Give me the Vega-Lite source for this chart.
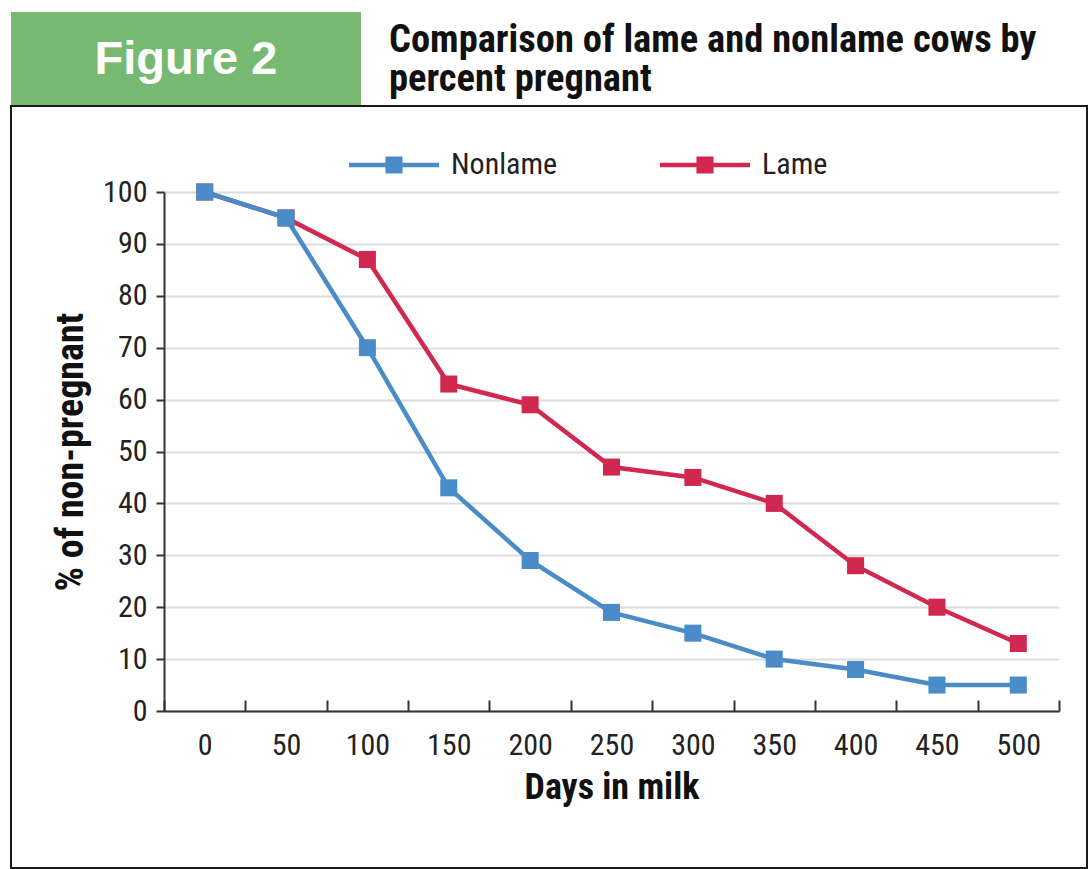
{
  "$schema": "https://vega.github.io/schema/vega-lite/v6.json",
  "background": "white",
  "padding": {"left": 10, "top": 12, "right": 0, "bottom": 0},
  "spacing": 0,
  "config": {
    "view": {"stroke": null},
    "font": "Roboto Condensed, DejaVu Sans Condensed, sans-serif"
  },
  "vconcat": [
    {
      "spacing": 0,
      "hconcat": [
        {
          "width": 350,
          "height": 93,
          "view": {"fill": "#77b970", "stroke": null},
          "data": {"values": [{"label": "Figure 2"}]},
          "mark": {"type": "text", "font": "Liberation Sans, Arial, sans-serif", "fontWeight": "bold", "fontSize": 47, "color": "white", "align": "center", "baseline": "middle", "dy": 1},
          "encoding": {
            "x": {"field": "label", "type": "nominal", "scale": {"type": "point"}, "axis": null},
            "y": {"field": "label", "type": "nominal", "scale": {"type": "point"}, "axis": null},
            "text": {"field": "label"}
          }
        },
        {
          "width": 726,
          "height": 93,
          "data": {"values": [{"t": "Comparison of lame and nonlame cows by\npercent pregnant"}]},
          "mark": {"type": "text", "fontWeight": "bold", "fontSize": 38.5, "color": "#111", "align": "left", "baseline": "alphabetic", "lineBreak": "\n", "lineHeight": 38.5, "dx": 28, "dy": 40},
          "encoding": {
            "x": {"field": "t", "type": "nominal", "scale": {"type": "point", "padding": 0, "align": 0}, "axis": null},
            "y": {"field": "t", "type": "nominal", "scale": {"type": "point", "padding": 0, "align": 0}, "axis": null},
            "text": {"field": "t"}
          }
        }
      ]
    },
    {
      "width": 1076,
      "height": 762,
      "view": {"stroke": "#1a1a1a", "strokeWidth": 2},
      "data": {
        "values": [
          {"group": "Lame", "day": 0, "pct": 100},
          {"group": "Lame", "day": 50, "pct": 95},
          {"group": "Lame", "day": 100, "pct": 87},
          {"group": "Lame", "day": 150, "pct": 63},
          {"group": "Lame", "day": 200, "pct": 59},
          {"group": "Lame", "day": 250, "pct": 47},
          {"group": "Lame", "day": 300, "pct": 45},
          {"group": "Lame", "day": 350, "pct": 40},
          {"group": "Lame", "day": 400, "pct": 28},
          {"group": "Lame", "day": 450, "pct": 20},
          {"group": "Lame", "day": 500, "pct": 13},
          {"group": "Nonlame", "day": 0, "pct": 100},
          {"group": "Nonlame", "day": 50, "pct": 95},
          {"group": "Nonlame", "day": 100, "pct": 70},
          {"group": "Nonlame", "day": 150, "pct": 43},
          {"group": "Nonlame", "day": 200, "pct": 29},
          {"group": "Nonlame", "day": 250, "pct": 19},
          {"group": "Nonlame", "day": 300, "pct": 15},
          {"group": "Nonlame", "day": 350, "pct": 10},
          {"group": "Nonlame", "day": 400, "pct": 8},
          {"group": "Nonlame", "day": 450, "pct": 5},
          {"group": "Nonlame", "day": 500, "pct": 5}
        ]
      },
      "encoding": {
        "x": {
          "field": "day",
          "type": "ordinal",
          "bandPosition": 0.5,
          "scale": {"type": "band", "range": [153, 1048], "paddingInner": 0, "paddingOuter": 0},
          "axis": {
            "title": "Days in milk",
            "orient": "bottom",
            "offset": -157,
            "tickBand": "extent",
            "tickSize": -11,
            "tickWidth": 2,
            "tickColor": "#333",
            "domainColor": "#333",
            "domainWidth": 2,
            "labelAngle": 0,
            "labelFontSize": 30,
            "labelColor": "#222",
            "labelPadding": 30,
            "grid": false,
            "titleFontSize": 36,
            "titleFontWeight": "bold",
            "titleColor": "#111",
            "titlePadding": 10
          }
        },
        "y": {
          "field": "pct",
          "type": "quantitative",
          "scale": {"domain": [0, 100], "range": [605, 86], "nice": false},
          "axis": {
            "title": "% of non-pregnant",
            "offset": -153,
            "values": [0, 10, 20, 30, 40, 50, 60, 70, 80, 90, 100],
            "tickSize": 8,
            "tickWidth": 2,
            "tickColor": "#333",
            "domainColor": "#333",
            "domainWidth": 2,
            "labelFontSize": 30,
            "labelColor": "#222",
            "labelPadding": 9,
            "grid": true,
            "gridColor": "#dcdcdc",
            "gridWidth": 2,
            "titleFontSize": 38,
            "titleFontWeight": "bold",
            "titleColor": "#111",
            "titlePadding": 12
          }
        },
        "color": {
          "field": "group",
          "type": "nominal",
          "scale": {"domain": ["Nonlame", "Lame"], "range": ["#4a8cc8", "#d0284f"]},
          "legend": {
            "title": null,
            "orient": "none",
            "direction": "horizontal",
            "legendX": 338,
            "legendY": 108,
            "padding": 0,
            "symbolType": "M-1,-0.05H1V0.05H-1Z M-0.19,-0.19H0.19V0.19H-0.19Z",
            "symbolSize": 8100,
            "symbolStrokeWidth": 0,
            "labelFontSize": 30,
            "labelColor": "#222",
            "labelOffset": 12,
            "labelLimit": 300,
            "columnPadding": 102,
            "encode": {
              "symbols": {
                "update": {
                  "fill": {"scale": "color", "field": "value"},
                  "stroke": {"value": "transparent"},
                  "opacity": {"value": 1}
                }
              }
            }
          }
        }
      },
      "layer": [
        {"mark": {"type": "line", "strokeWidth": 4.5}},
        {"mark": {"type": "point", "shape": "square", "filled": true, "size": 290, "opacity": 1}}
      ]
    }
  ]
}
